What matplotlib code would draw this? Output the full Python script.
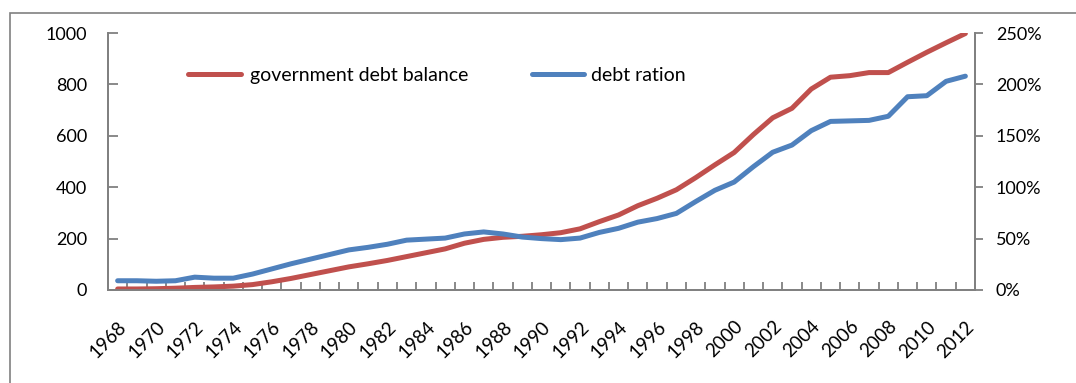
import matplotlib
matplotlib.use('Agg')
import matplotlib.pyplot as plt
from matplotlib.patches import Rectangle
from matplotlib.ticker import FuncFormatter
import numpy as np

# data
years = list(range(1968, 2013))
debt_balance = [4, 4, 5, 7, 10, 12, 15, 21, 32, 45,
                60, 75, 90, 102, 115, 130, 145, 160, 182, 197,
                205, 209, 215, 223, 238, 266, 292, 328, 357, 390,
                437, 487, 535, 605, 670, 707, 782, 828, 834, 846,
                846, 886, 925, 962, 998]
debt_ratio = [9, 9, 8.5, 9, 12.5, 11.5, 11.5, 15.5, 20.5, 25.5,
              30, 34.5, 39, 41.5, 44.5, 48.5, 49.5, 50.5, 54.5, 56.5,
              54.5, 51.5, 50, 49, 50.5, 56, 60, 66, 69.5, 74.5,
              86, 97, 105, 120, 134, 141, 155, 164, 164.5, 165,
              169, 188, 189, 203, 208]
left_ticks = [0, 200, 400, 600, 800, 1000]
right_ticks = [0, 50, 100, 150, 200, 250]

RED = '#C0504D'
BLUE = '#4F81BD'
GREY = '#808080'
FONT = 'Lato'
TICK_FS = 13
LEG_FS = 14

W, H = 1076, 383
fig = plt.figure(figsize=(W / 100, H / 100), dpi=100)

# outer chart frame (cut off at right/bottom like the reference)
fig.patches.append(Rectangle((10 / W, -0.1), 1.2, 1 - 13 / H + 0.1,
                             transform=fig.transFigure, fill=False,
                             edgecolor=GREY, linewidth=1.2))

ax = fig.add_axes([108 / W, 1 - 290 / H, (975 - 108) / W, (290 - 33) / H])
ax2 = ax.twinx()

x = np.arange(len(years))
l1, = ax.plot(x, debt_balance, color=RED, lw=3.6, solid_capstyle='round',
              label='government debt balance', zorder=3)
l2, = ax2.plot(x, debt_ratio, color=BLUE, lw=3.6, solid_capstyle='round',
               label='debt ration', zorder=3)

ax.set_xlim(-0.5, len(years) - 0.5)
ax.set_ylim(0, 1000)
ax2.set_ylim(0, 250)

ax.set_yticks(left_ticks)
ax.set_yticklabels([str(v) for v in left_ticks], fontsize=TICK_FS, family=FONT)
ax2.set_yticks(right_ticks)
ax2.yaxis.set_major_formatter(FuncFormatter(lambda v, p: f'{v:.0f}%'))
for lab in ax2.get_yticklabels():
    lab.set_fontsize(TICK_FS)
    lab.set_family(FONT)

# tick marks at category borders (major, unlabeled),
# year labels every other category (minor, no mark)
ax.set_xticks(np.arange(len(years) + 1) - 0.5)
ax.set_xticklabels([])
ax.set_xticks(x[::2], minor=True)
ax.set_xticklabels([str(y) for y in years[::2]], minor=True, rotation=45,
                   ha='right', rotation_mode='anchor',
                   fontsize=TICK_FS + 0.5, family=FONT)
ax.tick_params(axis='x', which='major', direction='in', length=6,
               color=GREY, width=1.3)
ax.tick_params(axis='x', which='minor', length=0, pad=20)
ax.tick_params(axis='y', direction='in', length=7, color=GREY, width=1.3, pad=15)
ax2.tick_params(axis='y', direction='out', length=6, color=GREY, width=1.3, pad=9)

for a in (ax, ax2):
    a.spines['top'].set_visible(False)
    for s in ('left', 'right', 'bottom'):
        a.spines[s].set_color(GREY)
        a.spines[s].set_linewidth(1.3)
ax.patch.set_visible(False)

# legend entries as in the reference
leg_y = 1 - (67 - 33) / 257
ax.legend([l1], ['government debt balance'], loc='upper left',
          bbox_to_anchor=((188 - 108) / (975 - 108), leg_y),
          frameon=False, handlelength=2.7, handletextpad=0.5,
          borderpad=0, borderaxespad=0,
          prop={'family': FONT, 'size': LEG_FS})
ax2.legend([l2], ['debt ration'], loc='upper left',
           bbox_to_anchor=((532 - 108) / (975 - 108), leg_y),
           frameon=False, handlelength=2.65, handletextpad=0.36,
           borderpad=0, borderaxespad=0,
           prop={'family': FONT, 'size': LEG_FS})

fig.savefig('out.png', dpi=100)
